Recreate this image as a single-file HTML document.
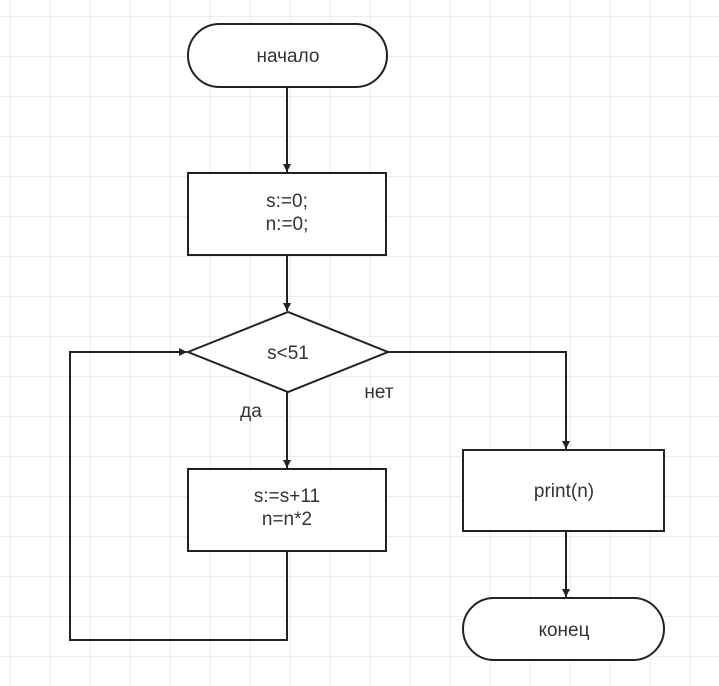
<!DOCTYPE html>
<html><head><meta charset="utf-8"><style>
html,body{margin:0;padding:0;background:#fff;}
svg{display:block;}
text{font-family:"Liberation Sans",Arial,sans-serif;font-size:19px;fill:#333;}
</style></head><body>
<svg width="719" height="686" xmlns="http://www.w3.org/2000/svg">
<defs>
<pattern id="g" width="40" height="40" patternUnits="userSpaceOnUse" x="10" y="16">
<path d="M0 0H40M0 0V40" stroke="#e6e6e6" stroke-width="1.5" fill="none"/>
</pattern>
<marker id="a" markerWidth="10" markerHeight="10" refX="9" refY="5" orient="auto" markerUnits="userSpaceOnUse">
<path d="M1 1L9 5L1 9z" fill="#222"/>
</marker>
</defs>
<rect width="719" height="686" fill="url(#g)"/>
<g stroke="#222" stroke-width="2" fill="#fff">
<rect x="188" y="24" width="199" height="63" rx="31.5"/>
<rect x="188" y="173" width="198" height="82"/>
<polygon points="188,352 288,312 388,352 288,392"/>
<rect x="188" y="469" width="198" height="82"/>
<rect x="463" y="450" width="201" height="81"/>
<rect x="463" y="598" width="201" height="62" rx="31"/>
</g>
<g stroke="#222" stroke-width="2" fill="none">
<path d="M287 87V172" marker-end="url(#a)"/>
<path d="M287 255V311" marker-end="url(#a)"/>
<path d="M287 392V468" marker-end="url(#a)"/>
<path d="M287 551V640H70V352H187" marker-end="url(#a)"/>
<path d="M388 352H566V449" marker-end="url(#a)"/>
<path d="M566 531V597" marker-end="url(#a)"/>
</g>
<g text-anchor="middle">
<text x="288" y="62">начало</text>
<text x="287" y="207">s:=0;</text>
<text x="287" y="230">n:=0;</text>
<text x="288" y="359">s&lt;51</text>
<text x="287" y="502">s:=s+11</text>
<text x="287" y="525">n=n*2</text>
<text x="564" y="497">print(n)</text>
<text x="564" y="636">конец</text>
<text x="251" y="417">да</text>
<text x="379" y="398">нет</text>
</g>
</svg>
</body></html>
